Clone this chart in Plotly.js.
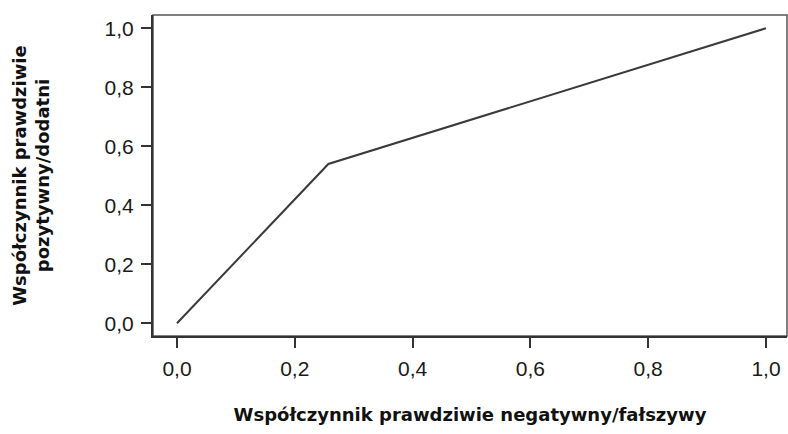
<!DOCTYPE html>
<html>
<head>
<meta charset="utf-8">
<script src="https://cdn.plot.ly/plotly-3.0.1.min.js"></script>
<style>html,body{margin:0;padding:0;background:#fff;}#chart{width:788px;height:434px;}</style>
</head>
<body>
<div id="chart"></div>
<script>
// Data (ROC curve)
var falsePositiveRate = [0.0, 0.257, 1.0];
var truePositiveRate = [0.0, 0.540, 1.0];
var tickValues = [0, 0.2, 0.4, 0.6, 0.8, 1.0];
var xTitle = 'Współczynnik prawdziwie negatywny/fałszywy';
var yTitle = 'Współczynnik prawdziwie<br>pozytywny/dodatni';

var trace = {
  x: falsePositiveRate,
  y: truePositiveRate,
  type: 'scatter',
  mode: 'lines',
  line: {color: '#3a3a3a', width: 2},
  hoverinfo: 'skip',
  showlegend: false
};

var tickFont = {family: 'Liberation Sans, Arial, sans-serif', size: 21, color: '#1a1a1a'};
var titleFont = {family: 'DejaVu Sans, sans-serif', size: 18, color: '#111', weight: 'bold'};

var layout = {
  width: 788,
  height: 434,
  separators: ',.',
  paper_bgcolor: '#ffffff',
  plot_bgcolor: '#ffffff',
  margin: {l: 153, r: 1, t: 15, b: 98},
  xaxis: {
    range: [-0.0407, 1.0357],
    tickvals: tickValues,
    tickformat: '.1f',
    ticks: 'outside',
    ticklen: 10,
    tickwidth: 2,
    tickcolor: '#333',
    showgrid: false,
    zeroline: false,
    showline: true,
    linecolor: '#333',
    linewidth: 2,
    tickfont: tickFont,
    ticklabelstandoff: 3,
    title: {text: xTitle, font: titleFont, standoff: 29}
  },
  yaxis: {
    range: [-0.043, 1.045],
    tickvals: tickValues,
    tickformat: '.1f',
    ticks: 'outside',
    ticklen: 10,
    tickwidth: 2,
    tickcolor: '#333',
    showgrid: false,
    zeroline: false,
    showline: true,
    linecolor: '#333',
    linewidth: 2,
    tickfont: tickFont,
    ticklabelstandoff: 3,
    title: {text: yTitle, font: titleFont, standoff: 50}
  },
  shapes: [
    {type: 'rect', xref: 'paper', yref: 'paper', x0: 0, x1: 1, y0: 0, y1: 1,
     line: {color: '#555', width: 1.5}, fillcolor: 'rgba(0,0,0,0)', layer: 'below'}
  ]
};

Plotly.newPlot('chart', [trace], layout, {displayModeBar: false, staticPlot: true});
</script>
</body>
</html>
